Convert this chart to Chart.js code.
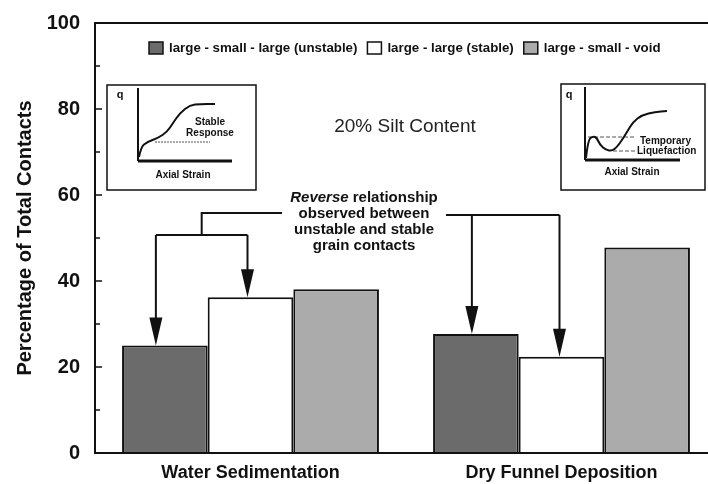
<!DOCTYPE html>
<html>
<head>
<meta charset="utf-8">
<script src="https://cdn.jsdelivr.net/npm/chart.js@4.4.1/dist/chart.umd.min.js"></script>
<style>
  html, body { margin: 0; padding: 0; background: #fff; overflow: hidden; }
  #wrap { width: 708px; height: 484px; overflow: hidden; }
</style>
</head>
<body>
<div id="wrap"><canvas id="myChart" width="717" height="484"></canvas></div>
<script>
const categories = ['Water Sedimentation', 'Dry Funnel Deposition'];
const seriesLabels = ['large - small - large (unstable)', 'large - large (stable)', 'large - small - void'];
const unstableValues = [25.0, 27.7];
const stableValues = [36.2, 22.4];
const voidValues = [38.1, 47.8];
const yTickValues = [0, 20, 40, 60, 80, 100];
const yMinorValues = [10, 30, 50, 70, 90];
const seriesColors = ['#6b6b6b', '#ffffff', '#ababab'];

const FONT = '"Liberation Sans", Arial, Helvetica, sans-serif';
const INK = '#111';

function smoothPath(ctx, ox, oy, pts) {
    ctx.beginPath();
    ctx.moveTo(ox + pts[0][0], oy + pts[0][1]);
    for (let i = 1; i < pts.length - 1; i++) {
        const mx = (pts[i][0] + pts[i + 1][0]) / 2;
        const my = (pts[i][1] + pts[i + 1][1]) / 2;
        ctx.quadraticCurveTo(ox + pts[i][0], oy + pts[i][1], ox + mx, oy + my);
    }
    const last = pts[pts.length - 1];
    ctx.lineTo(ox + last[0], oy + last[1]);
    ctx.stroke();
}

function arrowDown(ctx, x, y0, tipY) {
    ctx.beginPath();
    ctx.moveTo(x, y0);
    ctx.lineTo(x, tipY - 24);
    ctx.stroke();
    ctx.beginPath();
    ctx.moveTo(x - 6.5, tipY - 28);
    ctx.lineTo(x + 6.5, tipY - 28);
    ctx.lineTo(x, tipY);
    ctx.closePath();
    ctx.fill();
}

// small stress-strain sketches in the corners
function drawInset(ctx, box, opts) {
    const [bx, by, bw, bh] = box;
    ctx.save();
    ctx.fillStyle = '#fff';
    ctx.fillRect(bx, by, bw, bh);
    ctx.strokeStyle = INK;
    ctx.lineWidth = 1.5;
    ctx.strokeRect(bx, by, bw, bh);
    // axes
    ctx.lineWidth = 2;
    ctx.beginPath();
    ctx.moveTo(bx + opts.axisX, by + 3);
    ctx.lineTo(bx + opts.axisX, by + 76);
    ctx.stroke();
    ctx.lineWidth = 3;
    ctx.beginPath();
    ctx.moveTo(bx + opts.axisX, by + 76);
    ctx.lineTo(bx + opts.axisEnd, by + 76);
    ctx.stroke();
    // reference lines
    ctx.lineWidth = 1;
    ctx.strokeStyle = '#555';
    ctx.setLineDash(opts.dash);
    opts.refLines.forEach(l => {
        ctx.beginPath();
        ctx.moveTo(bx + l[0], by + l[2]);
        ctx.lineTo(bx + l[1], by + l[2]);
        ctx.stroke();
    });
    ctx.setLineDash([]);
    // response curve
    ctx.strokeStyle = INK;
    ctx.lineWidth = 2;
    ctx.lineJoin = 'round';
    smoothPath(ctx, bx, by, opts.curve);
    // labels
    ctx.fillStyle = INK;
    ctx.font = 'bold 11px ' + FONT;
    ctx.textBaseline = 'middle';
    ctx.textAlign = 'center';
    ctx.fillText('q', bx + opts.q[0], by + opts.q[1]);
    ctx.font = 'bold 10px ' + FONT;
    ctx.fillText('Axial Strain', bx + opts.xLabel[0], by + opts.xLabel[1]);
    opts.notes.forEach(n => {
        ctx.textAlign = n[3];
        ctx.fillText(n[0], bx + n[1], by + n[2]);
    });
    ctx.restore();
}

const decorPlugin = {
    id: 'decor',
    afterDatasetsDraw(chart) {
        const ctx = chart.ctx;
        const area = chart.chartArea;
        const yScale = chart.scales.y;
        ctx.save();

        // frame: left axis, top and bottom lines
        ctx.strokeStyle = INK;
        ctx.lineWidth = 2;
        ctx.beginPath();
        ctx.moveTo(area.right + 5, area.top);
        ctx.lineTo(area.left, area.top);
        ctx.lineTo(area.left, area.bottom);
        ctx.lineTo(area.right + 5, area.bottom);
        ctx.stroke();

        // inward tick marks
        ctx.lineWidth = 1.5;
        yTickValues.forEach(v => {
            const py = yScale.getPixelForValue(v);
            ctx.beginPath();
            ctx.moveTo(area.left, py);
            ctx.lineTo(area.left + 7, py);
            ctx.stroke();
        });
        yMinorValues.forEach(v => {
            const py = yScale.getPixelForValue(v);
            ctx.beginPath();
            ctx.moveTo(area.left, py);
            ctx.lineTo(area.left + 5, py);
            ctx.stroke();
        });

        // legend inside the plot
        ctx.font = 'bold 13.3px ' + FONT;
        ctx.textBaseline = 'middle';
        ctx.textAlign = 'left';
        let lx = area.left + 54;
        const ly = 48;
        chart.data.datasets.forEach(ds => {
            ctx.fillStyle = ds.backgroundColor;
            ctx.fillRect(lx, ly - 6, 14, 12);
            ctx.lineWidth = 1.5;
            ctx.strokeStyle = INK;
            ctx.strokeRect(lx, ly - 6, 14, 12);
            ctx.fillStyle = INK;
            ctx.fillText(ds.label, lx + 20, ly);
            lx += 20 + ctx.measureText(ds.label).width + 10;
        });

        // subtitle
        ctx.font = '19px ' + FONT;
        ctx.textAlign = 'center';
        ctx.fillStyle = '#222';
        ctx.fillText('20% Silt Content', 405, 127);

        drawInset(ctx, [107, 85, 149, 105], {
            axisX: 31, axisEnd: 125,
            dash: [2, 1],
            refLines: [[48, 103, 57]],
            curve: [[32, 72], [34, 62], [40, 57], [51, 53], [60, 47], [66, 38], [73, 28], [83, 20], [93, 19], [108, 19]],
            q: [13, 10], xLabel: [76, 90],
            notes: [['Stable', 103, 37, 'center'], ['Response', 103, 48, 'center']]
        });
        drawInset(ctx, [561, 84, 144, 106], {
            axisX: 24, axisEnd: 119,
            dash: [4, 2],
            refLines: [[27, 73, 53], [52, 74, 67]],
            curve: [[25, 74], [27, 56], [32, 52], [36, 54], [39, 61], [45, 66], [51, 67], [56, 63], [61, 56], [66, 48], [72, 38], [81, 31], [94, 28], [106, 27]],
            q: [8, 11], xLabel: [71, 88],
            notes: [['Temporary', 79, 57, 'left'], ['Liquefaction', 76, 67, 'left']]
        });

        // annotation text
        ctx.fillStyle = INK;
        ctx.textAlign = 'left';
        ctx.font = 'italic bold 15px ' + FONT;
        const w1 = ctx.measureText('Reverse').width;
        ctx.font = 'bold 15px ' + FONT;
        const w2 = ctx.measureText(' relationship').width;
        const cx = 364;
        let sx = cx - (w1 + w2) / 2;
        ctx.font = 'italic bold 15px ' + FONT;
        ctx.fillText('Reverse', sx, 198);
        ctx.font = 'bold 15px ' + FONT;
        ctx.fillText(' relationship', sx + w1, 198);
        ctx.textAlign = 'center';
        ['observed between', 'unstable and stable', 'grain contacts'].forEach((t, i) => {
            ctx.fillText(t, cx, [214, 230, 246][i]);
        });

        // bracket arrows pointing at unstable / stable bars
        const bar = (d, c) => chart.getDatasetMeta(d).data[c];
        ctx.strokeStyle = INK;
        ctx.fillStyle = INK;
        ctx.lineWidth = 2;

        const a1 = bar(0, 0).x - 9, a2 = bar(1, 0).x - 3;
        const mid = (a1 + a2) / 2;
        ctx.beginPath();
        ctx.moveTo(282, 213);
        ctx.lineTo(mid, 213);
        ctx.lineTo(mid, 235);
        ctx.moveTo(a1, 235);
        ctx.lineTo(a2, 235);
        ctx.stroke();
        arrowDown(ctx, a1, 235, bar(0, 0).y);
        arrowDown(ctx, a2, 235, bar(1, 0).y);

        const b1 = bar(0, 1).x - 4, b2 = bar(1, 1).x - 2;
        ctx.beginPath();
        ctx.moveTo(446, 215);
        ctx.lineTo(b2, 215);
        ctx.stroke();
        arrowDown(ctx, b1, 215, bar(0, 1).y);
        arrowDown(ctx, b2, 215, bar(1, 1).y);

        ctx.restore();
    }
};

const ctx = document.getElementById('myChart').getContext('2d');
new Chart(ctx, {
    type: 'bar',
    data: {
        labels: categories,
        datasets: [unstableValues, stableValues, voidValues].map((vals, i) => ({
            label: seriesLabels[i],
            data: vals,
            backgroundColor: seriesColors[i],
            borderColor: INK,
            borderWidth: 2,
            categoryPercentage: 0.826,
            barPercentage: 1
        }))
    },
    options: {
        responsive: false,
        animation: false,
        layout: { autoPadding: false, padding: { top: 23, left: 0, right: 0, bottom: 0 } },
        plugins: {
            legend: { display: false },
            tooltip: { enabled: false }
        },
        scales: {
            x: {
                grid: { display: false, drawTicks: false },
                border: { display: false },
                ticks: {
                    color: INK,
                    font: { family: FONT, size: 18, weight: 'bold' },
                    padding: 9,
                    maxRotation: 0
                },
                afterFit(scale) {
                    scale.height = 31;
                    scale.paddingLeft = 0;
                    scale.paddingRight = 0;
                }
            },
            y: {
                min: 0,
                max: 100,
                grid: { display: false, drawTicks: false },
                border: { display: false },
                afterBuildTicks(scale) { scale.ticks = yTickValues.map(v => ({ value: v })); },
                ticks: {
                    color: INK,
                    font: { family: FONT, size: 20, weight: 'bold' },
                    padding: 15
                },
                title: {
                    display: true,
                    text: 'Percentage of Total Contacts',
                    color: INK,
                    font: { family: FONT, size: 20, weight: 'bold' },
                    padding: { top: 13, bottom: 0 }
                },
                afterFit(scale) {
                    scale.width = 95;
                    scale.paddingTop = 0;
                    scale.paddingBottom = 0;
                }
            }
        }
    },
    plugins: [decorPlugin]
});
</script>
</body>
</html>
